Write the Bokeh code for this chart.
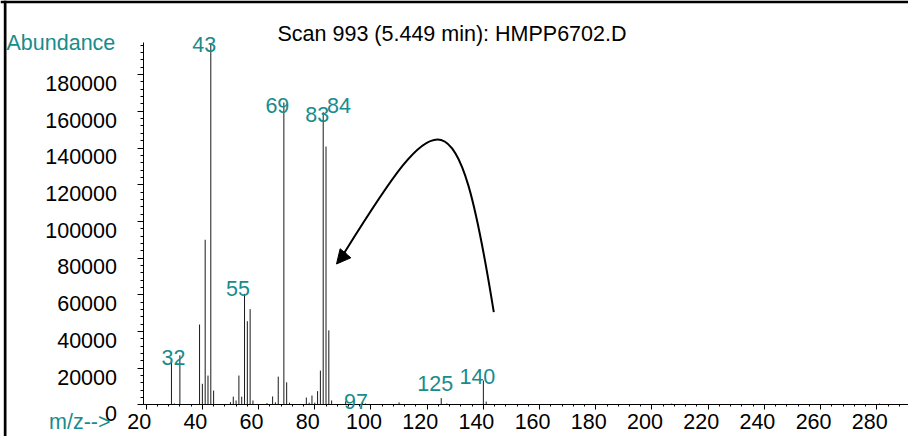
from bokeh.plotting import figure
from bokeh.models import (ColumnDataSource, LabelSet, Label, SingleIntervalTicker,
                          Range1d, Arrow, NormalHead, Span, LinearAxis)
from bokeh.core.properties import value
from bokeh.embed import file_html
from bokeh.resources import INLINE

# ---------------- data ----------------
mz = [29, 30, 32, 37, 39, 40, 41, 42, 43, 44, 50, 51, 52, 53, 54, 55, 56, 57, 58,
      63, 65, 66, 67, 69, 70, 71, 77, 78, 79, 80, 81, 82, 83, 84, 85, 86, 91, 97,
      98, 110, 125, 127, 140, 141, 207, 281]
abundance = [25000, 800, 27000, 500, 43800, 11500, 90000, 16000, 197000, 7800,
             1500, 4500, 2400, 16000, 4500, 60500, 45600, 52200, 2400,
             1000, 4600, 1400, 15400, 164800, 12300, 1200, 4000, 1200, 5100, 1200,
             7500, 18700, 159500, 140800, 40600, 2400, 2000, 1500,
             800, 1400, 3700, 800, 13300, 1800, 700, 700]
labelled_mz = [32, 43, 55, 69, 83, 84, 97, 125, 140]
x_ticks = [20, 40, 60, 80, 100, 120, 140, 160, 180, 200, 220, 240, 260, 280]
y_ticks = [0, 20000, 40000, 60000, 80000, 100000, 120000, 140000, 160000, 180000]
title_text = "Scan 993 (5.449 min): HMPP6702.D"
y_title = "Abundance"
x_title = "m/z-->"

# ---------------- layout / styling ----------------
W, H = 908, 436
TEAL = "#178c8c"
FONT = "Liberation Sans"
FS = "21.5px"
PX_PER_MZ = 2.81          # horizontal scale
AB_PER_PX = 544.96        # vertical scale
X_LO = 43 - 210.3 / PX_PER_MZ            # m/z at left canvas edge
Y_LO = -(H - 404.4) * AB_PER_PX          # abundance at bottom canvas edge
X_HI = X_LO + W / PX_PER_MZ
Y_HI = Y_LO + H * AB_PER_PX
X_AXIS_START = X_LO + 143 / PX_PER_MZ    # where the y axis stands
Y_AXIS_TOP = (404.4 - 41.7) * AB_PER_PX

# label offsets in pixels (right, down) for each labelled peak
lbl_dx = [-6.5, -6.5, -6.5, -6.5, -6, 13, -6.5, -6, -6]
lbl_dy = [10, 9, 2, 11, 10, -34, 7, -7, 4]

def mx(px):
    return X_LO + px / PX_PER_MZ

def ay(py):
    return (404.4 - py) * AB_PER_PX

p = figure(width=W, height=H, output_backend="svg", toolbar_location=None,
           x_range=Range1d(X_LO, X_HI), y_range=Range1d(Y_LO, Y_HI),
           x_axis_location=None, y_axis_location=None,
           min_border_left=0, min_border_right=0, min_border_top=0,
           min_border_bottom=0)
p.background_fill_color = "white"
p.border_fill_color = "white"
p.outline_line_color = None
p.grid.visible = False

xaxis = LinearAxis(fixed_location=0, bounds=(X_AXIS_START, X_HI + 2),
                   ticker=SingleIntervalTicker(interval=20, num_minor_ticks=5),
                   major_tick_out=5, minor_tick_out=2)
yaxis = LinearAxis(fixed_location=X_AXIS_START, bounds=(0, Y_AXIS_TOP),
                   ticker=SingleIntervalTicker(interval=20000, num_minor_ticks=5),
                   major_tick_out=6, minor_tick_out=3)
for ax in (xaxis, yaxis):
    ax.axis_line_color = "black"
    ax.axis_line_width = 1
    ax.major_tick_line_color = "black"
    ax.minor_tick_line_color = "black"
    ax.major_tick_in = 0
    ax.minor_tick_in = 0
    ax.major_label_text_color = None
    ax.major_label_text_font_size = "1px"
    ax.major_label_standoff = 0
p.add_layout(xaxis, "below")
p.add_layout(yaxis, "left")

# bars
src = ColumnDataSource(dict(mz=mz, ab=abundance))
p.segment(x0="mz", y0=0, x1="mz", y1="ab", source=src,
          line_color="#1a1a1a", line_width=1)

# peak labels
ab_of = dict(zip(mz, abundance))
lsrc = ColumnDataSource(dict(x=labelled_mz, y=[ab_of[m] for m in labelled_mz],
                             t=[str(m) for m in labelled_mz],
                             dx=lbl_dx, dy=[-d for d in lbl_dy]))
p.add_layout(LabelSet(x="x", y="y", text="t", source=lsrc, x_offset="dx", y_offset="dy",
                      text_align="center", text_baseline="alphabetic",
                      text_font=value(FONT), text_font_size=value(FS),
                      text_color=value(TEAL)))

# tick labels
xs = ColumnDataSource(dict(x=x_ticks, y=[0] * len(x_ticks), t=[str(v) for v in x_ticks]))
p.add_layout(LabelSet(x="x", y="y", text="t", source=xs, x_offset=-7, y_offset=-23.6,
                      text_align="center", text_baseline="alphabetic",
                      text_font=value(FONT), text_font_size=value(FS),
                      text_color=value("black")))
ys = ColumnDataSource(dict(x=[X_AXIS_START] * len(y_ticks), y=y_ticks,
                           t=[str(v) for v in y_ticks]))
p.add_layout(LabelSet(x="x", y="y", text="t", source=ys, x_offset=-26.5, y_offset=-16.3,
                      text_align="right", text_baseline="alphabetic",
                      text_font=value(FONT), text_font_size=value(FS),
                      text_color=value("black")))

# titles
p.add_layout(Label(x=X_AXIS_START, y=Y_AXIS_TOP, x_offset=308.5, y_offset=8.4, text=title_text,
                   text_align="center", text_baseline="alphabetic",
                   text_font=FONT, text_font_size=FS, text_color="black"))
p.add_layout(Label(x=X_AXIS_START, y=Y_AXIS_TOP, x_offset=-137, y_offset=-1, text=y_title,
                   text_align="left", text_baseline="alphabetic",
                   text_font=FONT, text_font_size=FS, text_color=TEAL))
p.add_layout(Label(x=X_AXIS_START, y=0, x_offset=-33, y_offset=-17, text=x_title,
                   text_align="right", text_baseline="alphabetic",
                   text_font=FONT, text_font_size=FS, text_color=TEAL))

# curved arrow annotation (pixel-calibrated control points)
p.bezier(x0=[mx(493.3)], y0=[ay(311.7)], x1=[mx(344)], y1=[ay(252)],
         cx0=[mx(456.7)], cy0=[ay(84.7)], cx1=[mx(439.2)], cy1=[ay(99.2)],
         line_color="black", line_width=2)
p.add_layout(Arrow(x_start=mx(345.5), y_start=ay(252.2), x_end=mx(336), y_end=ay(263.5),
                   line_color="black", line_width=2,
                   end=NormalHead(size=14, fill_color="black", line_color="black")))

# window border (left and top)
p.add_layout(Span(location=mx(4.65), dimension="height", line_color="black", line_width=2.7))
p.add_layout(Span(location=ay(1.35), dimension="width", line_color="black", line_width=2.7))

open("out.html", "w").write(file_html(p, INLINE))
